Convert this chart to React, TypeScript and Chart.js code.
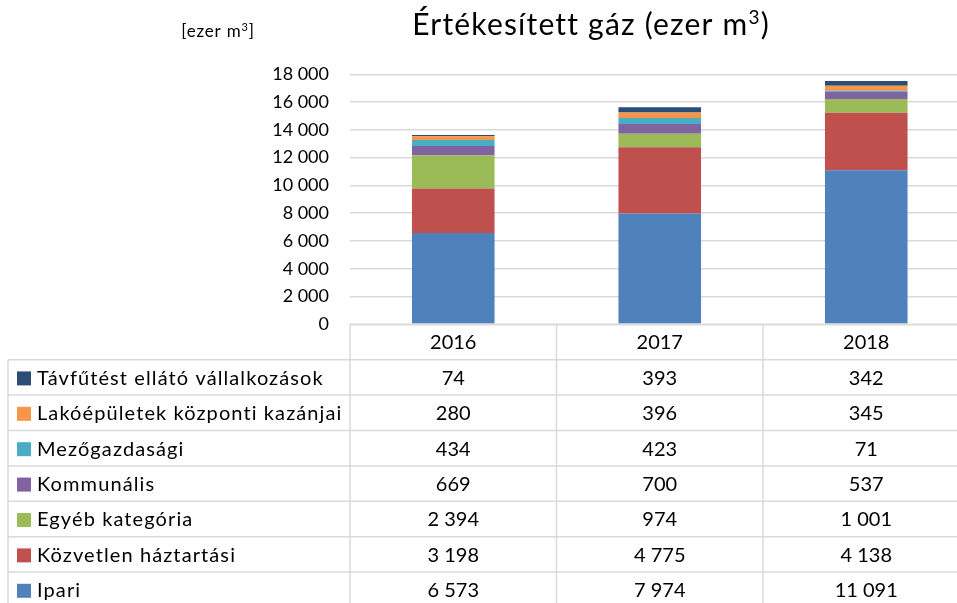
import React, { useEffect, useRef } from "react";
import { Chart, registerables } from "chart.js";

Chart.register(...registerables);

const years = ["2016", "2017", "2018"];

const ipari = [6573, 7974, 11091];
const kozvetlen = [3198, 4775, 4138];
const egyeb = [2394, 974, 1001];
const kommunalis = [669, 700, 537];
const mezogazdasagi = [434, 423, 71];
const lakoepuletek = [280, 396, 345];
const tavfutes = [74, 393, 342];

const seriesNames = [
  "Ipari",
  "Közvetlen háztartási",
  "Egyéb kategória",
  "Kommunális",
  "Mezőgazdasági",
  "Lakóépületek központi kazánjai",
  "Távfűtést ellátó vállalkozások",
];
const seriesValues = [ipari, kozvetlen, egyeb, kommunalis, mezogazdasagi, lakoepuletek, tavfutes];
const seriesColors = ["#4F81BD", "#C0504D", "#9BBB59", "#8064A2", "#4BACC6", "#F79646", "#2C4D75"];

const yMax = 18000;
const yStep = 2000;
const titleMain = "Értékesített gáz (ezer m";
const titleEnd = ")";
const unitMain = "[ezer m";
const unitEnd = "]";
const supText = "3";

const FONT = "Lato, 'Open Sans', sans-serif";

function fmt(n: number): string {
  return String(n).replace(/\B(?=(\d{3})+(?!\d))/g, " ");
}

function drawSup(
  ctx: any,
  main: string,
  end: string,
  cx: number,
  baseline: number,
  size: number,
  spacing: number
) {
  const supSize = Math.round(size * 0.62);
  ctx.letterSpacing = `${spacing}px`;
  ctx.font = `${size}px ${FONT}`;
  const w1 = ctx.measureText(main).width;
  const w3 = ctx.measureText(end).width;
  ctx.font = `${supSize}px ${FONT}`;
  const w2 = ctx.measureText(supText).width;
  const total = w1 + w2 + w3;
  let x = cx - total / 2;
  ctx.textAlign = "left";
  ctx.textBaseline = "alphabetic";
  ctx.font = `${size}px ${FONT}`;
  ctx.fillText(main, x, baseline);
  x += w1;
  ctx.font = `${supSize}px ${FONT}`;
  ctx.fillText(supText, x, baseline - size * 0.38);
  x += w2;
  ctx.font = `${size}px ${FONT}`;
  ctx.fillText(end, x, baseline);
  ctx.letterSpacing = "0px";
}

const tablePlugin = {
  id: "dataTable",
  afterDraw(chart: any) {
    const ctx = chart.ctx as any;
    const area = chart.chartArea;
    const xs = chart.scales.x;
    const n = years.length;
    const colW = (area.right - area.left) / n;
    const top = area.bottom;
    const rowH = 35.4;
    const left = 8;
    const rows = seriesNames.length;
    const bottom = top + rowH * (rows + 1);

    ctx.save();
    ctx.strokeStyle = "#d9d9d9";
    ctx.lineWidth = 1.5;
    ctx.beginPath();
    ctx.moveTo(area.left, top);
    ctx.lineTo(area.right, top);
    for (let r = 1; r <= rows + 1; r++) {
      const y = top + rowH * r;
      ctx.moveTo(left, y);
      ctx.lineTo(area.right, y);
    }
    for (let c = 0; c <= n; c++) {
      const x = area.left + colW * c;
      ctx.moveTo(x, top);
      ctx.lineTo(x, bottom);
    }
    ctx.moveTo(left, top + rowH);
    ctx.lineTo(left, bottom);
    ctx.stroke();

    ctx.fillStyle = "#000";
    ctx.textBaseline = "middle";
    ctx.font = `20px ${FONT}`;
    ctx.textAlign = "center";
    years.forEach((yr, i) => {
      ctx.fillText(yr, xs.getPixelForValue(i), top + rowH / 2 + 1);
    });

    for (let r = 0; r < rows; r++) {
      const si = rows - 1 - r;
      const cy = top + rowH * (r + 1) + rowH / 2 + 1;
      ctx.fillStyle = seriesColors[si];
      ctx.fillRect(17, cy - 7, 14, 14);
      ctx.fillStyle = "#000";
      ctx.textAlign = "left";
      ctx.letterSpacing = "1.1px";
      ctx.fillText(seriesNames[si], 37, cy);
      ctx.letterSpacing = "0px";
      ctx.textAlign = "center";
      seriesValues[si].forEach((v, i) => {
        ctx.fillText(fmt(v), xs.getPixelForValue(i), cy);
      });
    }

    ctx.fillStyle = "#000";
    drawSup(ctx, titleMain, titleEnd, 591, 35, 30, 1.2);
    drawSup(ctx, unitMain, unitEnd, 218, 37, 17, 0.8);
    ctx.restore();
  },
};

export default function App() {
  const ref = useRef<HTMLCanvasElement | null>(null);
  useEffect(() => {
    document.body.style.margin = "0";
    if (!ref.current) return;
    const chart = new Chart(ref.current, {
      type: "bar",
      data: {
        labels: years,
        datasets: seriesNames.map((name, i) => ({
          label: name,
          data: seriesValues[i],
          backgroundColor: seriesColors[i],
          borderWidth: 0,
          barPercentage: 0.4,
          categoryPercentage: 1,
        })),
      },
      options: {
        responsive: false,
        animation: false,
        devicePixelRatio: 1,
        layout: { padding: { top: 74.3, bottom: 278.7, left: 0, right: 0.5 } },
        plugins: {
          legend: { display: false },
          title: { display: false },
          tooltip: { enabled: false },
        },
        scales: {
          x: { stacked: true, display: false },
          y: {
            stacked: true,
            min: 0,
            max: yMax,
            afterFit(scale: any) {
              scale.width = 350;
            },
            border: { display: false },
            grid: { color: "#d9d9d9", lineWidth: 1.5, drawTicks: false },
            ticks: {
              stepSize: yStep,
              padding: 21,
              color: "#000",
              font: { family: FONT, size: 18 },
              callback: (v: any) => fmt(Number(v)),
            },
          },
        },
      },
      plugins: [tablePlugin],
    });
    return () => chart.destroy();
  }, []);
  return (
    <div style={{ width: 957, height: 603, overflow: "hidden", position: "relative", background: "#fff" }}>
      <canvas ref={ref} width={970} height={603} style={{ display: "block", width: 970, height: 603 }} />
    </div>
  );
}
